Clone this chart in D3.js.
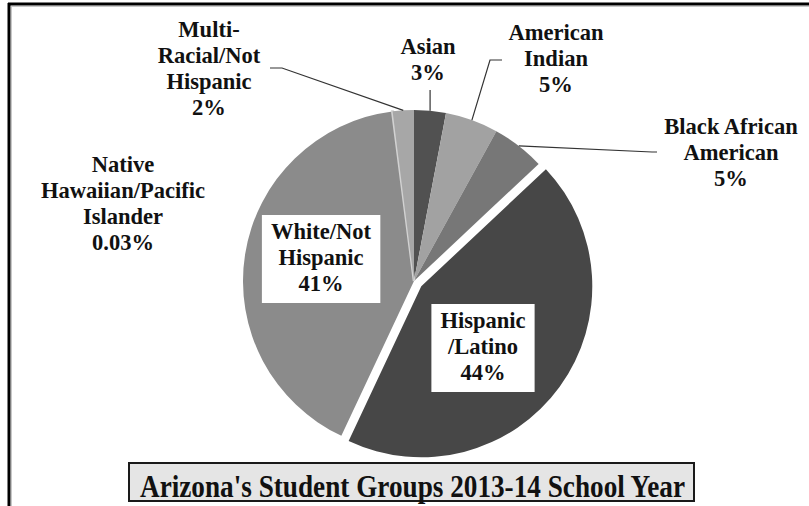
<!DOCTYPE html>
<html>
<head>
<meta charset="utf-8">
<script src="https://cdn.jsdelivr.net/npm/d3@7"></script>
<style>
  html, body { margin: 0; padding: 0; background: #fff; }
  svg { display: block; }
</style>
</head>
<body>
<svg id="chart" width="809" height="506"></svg>
<script>
// Student groups, in clockwise order from 12 o'clock
const categories = [
  "Asian",
  "American Indian",
  "Black African American",
  "Hispanic/Latino",
  "White/Not Hispanic",
  "Native Hawaiian/Pacific Islander",
  "Multi-Racial/Not Hispanic"
];
// Share of students, percent
const shares = [3, 5, 5, 44, 41, 0.03, 2];
// How each category name wraps onto lines
const labelLines = [
  ["Asian"],
  ["American", "Indian"],
  ["Black African", "American"],
  ["Hispanic", "/Latino"],
  ["White/Not", "Hispanic"],
  ["Native", "Hawaiian/Pacific", "Islander"],
  ["Multi-", "Racial/Not", "Hispanic"]
];
const sliceColors = ["#515151", "#a2a2a2", "#777777", "#474747", "#8b8b8b", "#d2d2d2", "#a7a7a7"];
const titleText = "Arizona's Student Groups 2013-14 School Year";

const FONT = "'Liberation Serif', 'Times New Roman', serif";

const svg = d3.select("#chart");
const W = 809, H = 506;

// Frame
svg.append("line").attr("x1", 8).attr("x2", W).attr("y1", 4).attr("y2", 4)
  .attr("stroke", "#000").attr("stroke-width", 3);
svg.append("line").attr("x1", 9).attr("x2", 9).attr("y1", 3).attr("y2", H)
  .attr("stroke", "#000").attr("stroke-width", 3);
svg.append("line").attr("x1", 11).attr("x2", W).attr("y1", 6.5).attr("y2", 6.5)
  .attr("stroke", "#c8c8c8").attr("stroke-width", 1);
svg.append("line").attr("x1", 11.5).attr("x2", 11.5).attr("y1", 6).attr("y2", H)
  .attr("stroke", "#c8c8c8").attr("stroke-width", 1);

// Pie geometry
const cx = 414, cy = 281, R = 171, explode = 9;
const explodedIndex = 3;

const data = categories.map((c, i) => ({ name: c, value: shares[i], lines: labelLines[i], color: sliceColors[i], index: i }));
const pie = d3.pie().value(d => d.value).sort(null).startAngle(0).endAngle(2 * Math.PI);
const arcs = pie(data);
const arc = d3.arc().innerRadius(0).outerRadius(R);

const g = svg.append("g").attr("transform", `translate(${cx},${cy})`);

function offsetOf(a) {
  if (a.data.index !== explodedIndex) return [0, 0];
  const m = (a.startAngle + a.endAngle) / 2;
  return [Math.sin(m) * explode, -Math.cos(m) * explode];
}

g.selectAll("path.slice").data(arcs).join("path")
  .attr("class", "slice")
  .attr("d", arc)
  .attr("transform", a => { const o = offsetOf(a); return `translate(${o[0]},${o[1]})`; })
  .attr("fill", a => a.data.color)
  .attr("stroke", a => a.data.value < 0.5 ? a.data.color : "none")
  .attr("stroke-width", a => a.data.value < 0.5 ? 2.5 : 0);

// Label placement (center x, first baseline y) and leader elbows
const fontSize = 24, lineGap = 26, squeeze = 0.94;
const labelPos = {
  "Asian": { x: 428, y: 54, leader: "vertical", from: [428, 90] },
  "American Indian": { x: 556, y: 40, leader: "elbow", from: [502, 60], elbow: [490, 60] },
  "Black African American": { x: 731, y: 134, leader: "elbow", from: [657, 152], elbow: [652, 152] },
  "Hispanic/Latino": { x: 483, y: 328, box: true },
  "White/Not Hispanic": { x: 321, y: 239, box: true },
  "Native Hawaiian/Pacific Islander": { x: 123, y: 172 },
  "Multi-Racial/Not Hispanic": { x: 209, y: 37, leader: "elbow", from: [270, 68], elbow: [282, 68] }
};

const pctFmt = v => (v < 1 ? d3.format(".2f")(v) : d3.format(".0f")(v)) + "%";

// Leader lines run from the label to the rim at each slice's middle angle
arcs.forEach(a => {
  const p = labelPos[a.data.name];
  if (!p.leader) return;
  const m = (a.startAngle + a.endAngle) / 2;
  const rim = [cx + Math.sin(m) * R, cy - Math.cos(m) * R];
  let pts;
  if (p.leader === "vertical") pts = [[rim[0], p.from[1]], rim];
  else pts = [p.from, p.elbow, rim];
  svg.append("path")
    .attr("d", d3.line()(pts))
    .attr("fill", "none")
    .attr("stroke", "#333")
    .attr("stroke-width", 1.2);
});

// Labels, slightly condensed horizontally
arcs.forEach(a => {
  const p = labelPos[a.data.name];
  const lines = a.data.lines.concat([pctFmt(a.data.value)]);
  const lg = svg.append("g").attr("transform", `translate(${p.x},0) scale(${squeeze},1)`);
  if (p.box) lg.append("rect").attr("class", "labelbox");
  const t = lg.append("text")
    .attr("text-anchor", "middle")
    .attr("font-family", FONT)
    .attr("font-weight", "bold")
    .attr("font-size", fontSize)
    .attr("fill", "#111");
  lines.forEach((ln, k) => {
    t.append("tspan").attr("x", 0).attr("y", p.y + k * lineGap).text(ln);
  });
  if (p.box) {
    const bb = t.node().getBBox();
    const pad = 9 / squeeze;
    lg.select("rect")
      .attr("x", bb.x - pad).attr("y", p.y - 24)
      .attr("width", bb.width + 2 * pad).attr("height", (lines.length - 1) * lineGap + 36)
      .attr("fill", "#fff");
  }
});

// Title box
const titleW = 565, titleH = 38, titleCx = 411.5, titleTop = 463;
svg.append("rect")
  .attr("x", titleCx - titleW / 2).attr("y", titleTop)
  .attr("width", titleW).attr("height", titleH)
  .attr("fill", "#e5e5e5").attr("stroke", "#1a1a1a").attr("stroke-width", 2);
svg.append("text")
  .attr("x", titleCx + 1).attr("y", titleTop + 34)
  .attr("text-anchor", "middle")
  .attr("font-family", FONT)
  .attr("font-weight", "bold")
  .attr("font-size", 31)
  .attr("fill", "#111")
  .attr("textLength", 545).attr("lengthAdjust", "spacingAndGlyphs")
  .text(titleText);
</script>
</body>
</html>
